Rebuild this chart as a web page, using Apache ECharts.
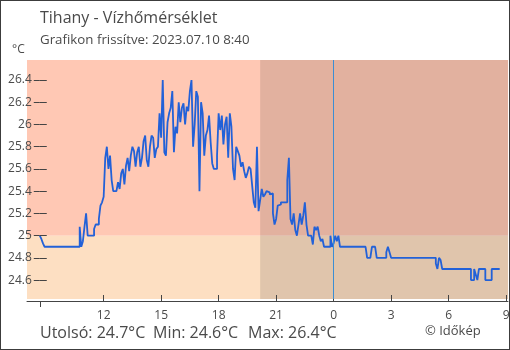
<!DOCTYPE html>
<html><head><meta charset="utf-8">
<script src="https://cdn.jsdelivr.net/npm/echarts@6/dist/echarts.min.js"></script>
<style>
html,body{margin:0;padding:0;background:#fff}
#wrap{position:relative;width:510px;height:350px}
#c{position:absolute;left:0;top:0;width:510px;height:350px}
#frame{position:absolute;left:0;top:0;width:510px;height:350px;box-sizing:border-box;border:1px solid #3c3c3c;pointer-events:none}
</style></head><body>
<div id="wrap"><div id="c"></div><div id="frame"></div></div>
<script>
// ---- texts ----
const titleText = 'Tihany - Vízhőmérséklet';
const subtitleText = 'Grafikon frissítve: 2023.07.10 8:40';
const unitText = '°C';
const creditText = '© Időkép';

// ---- sampling (first sample 2023.07.09 08:40, one every 5 minutes) ----
const startHour = 8 + 40 / 60;
const stepMinutes = 5;

// ---- water temperature, °C ----
const temps = [
  25.0, 24.97, 24.93, 24.9, 24.9, 24.9, 24.9, 24.9, 24.9, 24.9,
  24.9, 24.9, 24.9, 24.9, 24.9, 24.9, 24.9, 24.9, 24.9, 24.9,
  24.9, 24.9, 24.9, 24.9, 24.9, 25.08, 24.9, 24.95, 25.08, 25.2,
  25.0, 25.0, 25.0, 25.0, 25.06, 25.1, 25.1, 25.15, 25.27, 25.3,
  25.35, 25.7, 25.8, 25.6, 25.72, 25.5, 25.4, 25.4, 25.4, 25.48,
  25.42, 25.56, 25.6, 25.46, 25.63, 25.7, 25.58, 25.72, 25.8, 25.76,
  25.62, 25.75, 25.8, 25.62, 25.7, 25.85, 25.9, 25.68, 25.62, 25.8,
  25.9, 25.88, 25.7, 25.78, 25.8, 26.1, 25.88, 26.4, 25.75, 25.72,
  26.02, 26.1, 26.15, 26.3, 25.75, 25.98, 25.92, 26.2, 26.02, 26.15,
  26.19, 26.0, 26.16, 26.12, 26.3, 26.4, 25.8, 26.0, 26.3, 26.25,
  25.4, 26.2, 26.1, 25.72, 25.9, 25.95, 26.08, 25.84, 25.65, 25.6,
  25.6, 25.72, 26.1, 25.95, 26.08, 25.82, 26.0, 26.07, 25.7, 26.1,
  25.98, 25.6, 25.5, 25.8, 25.76, 25.72, 25.62, 25.66, 25.58, 25.52,
  25.56, 25.62, 25.6, 25.45, 25.3, 25.25, 25.8, 25.22, 25.32, 25.42,
  25.35, 25.37, 25.4, 25.39, 25.37, 25.38, 25.2, 25.1, 25.15, 25.27,
  25.28, 25.3, 25.3, 25.3, 25.3, 25.5, 25.7, 25.15, 25.1, 25.2,
  25.05, 25.0, 25.1, 25.2, 25.1, 25.18, 25.3, 25.1, 25.0, 25.0,
  25.0, 24.92, 25.08, 25.05, 25.08, 25.0, 24.95, 24.97, 24.9, 24.9,
  24.9, 24.9, 25.0, 24.9, 24.93, 25.0, 24.95, 25.0, 24.9, 24.9,
  24.9, 24.9, 24.9, 24.9, 24.9, 24.9, 24.9, 24.9, 24.9, 24.9,
  24.9, 24.9, 24.9, 24.9, 24.9, 24.8, 24.8, 24.8, 24.9, 24.9,
  24.9, 24.8, 24.8, 24.8, 24.8, 24.8, 24.8, 24.85, 24.9, 24.85,
  24.8, 24.8, 24.8, 24.8, 24.8, 24.8, 24.8, 24.8, 24.8, 24.8,
  24.8, 24.8, 24.8, 24.8, 24.8, 24.8, 24.8, 24.8, 24.8, 24.8,
  24.8, 24.8, 24.8, 24.8, 24.8, 24.8, 24.8, 24.8, 24.75, 24.7,
  24.8, 24.78, 24.7, 24.7, 24.7, 24.7, 24.7, 24.7, 24.7, 24.7,
  24.7, 24.7, 24.7, 24.7, 24.7, 24.7, 24.7, 24.7, 24.7, 24.7,
  24.6, 24.6, 24.7, 24.65, 24.6, 24.7, 24.7, 24.7, 24.7, 24.6,
  24.6, 24.6, 24.6, 24.7, 24.7, 24.7, 24.7, 24.7, 24.7
];

// ---- axes ----
const yTicks = [24.6, 24.8, 25.0, 25.2, 25.4, 25.6, 25.8, 26.0, 26.2, 26.4];
const yMin = 24.43, yMax = 26.58;
const xTickHours = [12, 15, 18, 21, 24, 27, 30, 33];   // hours from 07.09 00:00
const axisStartHour = 8.0, axisEndHour = 33.1;
const warmLimit = 25;           // colour band border
const nightStartHour = 20 + 10 / 60;
const midnightHour = 24;

const rel = h => h - startHour;
const xMin = rel(axisStartHour), xMax = rel(axisEndHour);
const lineData = temps.map((v, i) => [i * stepMinutes / 60, v]);

const last = temps[temps.length - 1];
const tMin = Math.min(...temps), tMax = Math.max(...temps);

const FONT = '"Open Sans", "Noto Sans", sans-serif';
const TXT = '#4a4a4a';

const G_LEFT = 27, G_RIGHT = 2, W = 510;
const plotW = W - G_LEFT - G_RIGHT;
const yAxisX = G_LEFT + (0 - xMin) / (xMax - xMin) * plotW;   // x pixel of the first sample

const chart = echarts.init(document.getElementById('c'), null, {renderer: 'canvas'});
chart.setOption({
  animation: false,
  grid: {left: G_LEFT, right: G_RIGHT, top: 60, bottom: 51, containLabel: false, outerBoundsMode: 'none'},
  xAxis: [{
    type: 'value', min: xMin, max: xMax, position: 'bottom', offset: 2, z: 4,
    axisLine: {show: true, onZero: false, lineStyle: {color: '#444', width: 1}},
    axisTick: {show: true, inside: true, length: 6, customValues: xTickHours.map(rel), lineStyle: {color: '#444'}},
    axisLabel: {show: true, customValues: xTickHours.map(rel), margin: 9, color: TXT, fontFamily: FONT, fontSize: 12,
      formatter: v => String(Math.round(v + startHour) % 24)},
    splitLine: {show: false}
  }, {
    type: 'value', min: xMin, max: xMax, position: 'bottom', offset: 2, z: 4,
    axisLine: {show: false, onZero: false},
    axisTick: {show: true, inside: false, length: 6, customValues: [0], lineStyle: {color: '#444'}},
    axisLabel: {show: false},
    splitLine: {show: false}
  }],
  yAxis: [{
    type: 'value', min: yMin, max: yMax, position: 'left', offset: -(yAxisX - G_LEFT), z: 4,
    axisLine: {show: false, onZero: false},
    axisTick: {show: true, length: 6, customValues: yTicks, lineStyle: {color: '#444'}},
    axisLabel: {show: true, customValues: yTicks, margin: 8, color: TXT, fontFamily: FONT, fontSize: 12,
      formatter: v => String(Math.round(v * 10) / 10)},
    splitLine: {show: false}
  }, {
    type: 'value', min: yMin, max: yMax, position: 'right', offset: -(W - G_RIGHT - yAxisX), z: 4,
    axisLine: {show: false, onZero: false},
    axisTick: {show: true, length: 7, customValues: yTicks, lineStyle: {color: '#444'}},
    axisLabel: {show: false},
    splitLine: {show: false}
  }],
  series: [{
    type: 'line', z: 1, silent: true, showSymbol: false,
    data: [[0, warmLimit]], lineStyle: {opacity: 0},
    markArea: {
      silent: true, label: {show: false},
      data: [
        [{xAxis: xMin, yAxis: warmLimit, itemStyle: {color: '#ffc8b4'}}, {xAxis: xMax, yAxis: yMax}],
        [{xAxis: xMin, yAxis: yMin, itemStyle: {color: '#fddfc2'}}, {xAxis: xMax, yAxis: warmLimit}],
        [{xAxis: rel(nightStartHour), yAxis: yMin, itemStyle: {color: 'rgba(0,0,0,0.115)'}}, {xAxis: xMax, yAxis: yMax}]
      ]
    }
  }, {
    type: 'line', z: 3, step: 'end', showSymbol: false, silent: true,
    data: lineData,
    lineStyle: {color: '#2261d8', width: 1.8},
    markLine: {
      silent: true, symbol: 'none', label: {show: false},
      lineStyle: {color: '#3b8ed4', width: 1, type: 'solid'},
      data: [{xAxis: rel(midnightHour)}]
    }
  }],
  graphic: [
    {type: 'text', x: 40, y: 18, style: {text: titleText, font: '16px ' + FONT, fill: TXT, verticalAlign: 'middle'}},
    {type: 'text', x: 40, y: 40, style: {text: subtitleText, font: '13.3px ' + FONT, fill: TXT, verticalAlign: 'middle'}},
    {type: 'text', x: 12, y: 50, style: {text: unitText, font: '12px ' + FONT, fill: TXT, verticalAlign: 'middle'}},
    {type: 'text', x: 40, y: 333, style: {text: 'Utolsó: ' + last.toFixed(1) + '°C', font: '16px ' + FONT, fill: TXT, verticalAlign: 'middle'}},
    {type: 'text', x: 153, y: 333, style: {text: 'Min: ' + tMin.toFixed(1) + '°C', font: '16px ' + FONT, fill: TXT, verticalAlign: 'middle'}},
    {type: 'text', x: 248, y: 333, style: {text: 'Max: ' + tMax.toFixed(1) + '°C', font: '16px ' + FONT, fill: TXT, verticalAlign: 'middle'}},
    {type: 'text', x: 425, y: 331, style: {text: creditText, font: '13px ' + FONT, fill: TXT, verticalAlign: 'middle'}}
  ]
});
</script>
</body></html>
